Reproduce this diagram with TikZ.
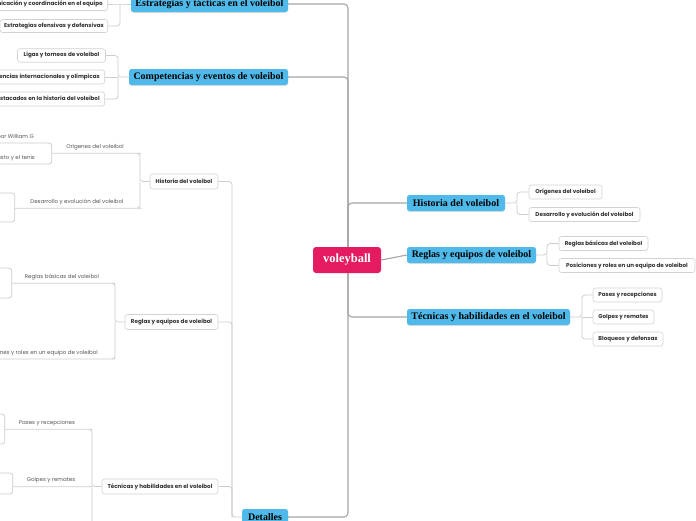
\documentclass[tikz,border=0pt]{standalone}
\usepackage{fontspec}
\setmainfont{Liberation Serif}
\newfontfamily\pop{Poppins}
\usetikzlibrary{backgrounds,shadows}
\definecolor{pinkc}{RGB}{228,27,96}
\definecolor{bluec}{RGB}{79,186,234}
\definecolor{mainline}{RGB}{165,165,165}
\definecolor{subline}{RGB}{205,205,205}
\definecolor{boxline}{RGB}{210,210,210}
\definecolor{txtd}{RGB}{50,50,50}
\definecolor{txtl}{RGB}{85,85,85}
\tikzset{
  rootbox/.style={fill=pinkc, rounded corners=3pt, text=white, font=\fontsize{12.5}{14}\selectfont\bfseries, minimum height=26, inner sep=0pt},
  bluebox/.style={fill=bluec, rounded corners=2.5pt, text=black, font=\fontsize{10}{12}\selectfont\bfseries, minimum height=16, inner sep=0pt, drop shadow={shadow xshift=0pt, shadow yshift=-0.8pt, opacity=0.25}},
  wbox/.style={draw=boxline, line width=0.6pt, fill=white, rounded corners=2.5pt, text=txtd, font=\pop\fontsize{5.6}{7}\selectfont\bfseries, minimum height=14, inner sep=0pt},
  uleaf/.style={text=txtl, font=\pop\fontsize{5.5}{7}\selectfont, minimum height=12, inner sep=0pt},
  mainconn/.style={draw=mainline, line width=1.1pt, rounded corners=4pt},
  subconn/.style={draw=subline, line width=0.8pt, rounded corners=3pt},
}
\begin{document}
\begin{tikzpicture}[x=1pt,y=-1pt]
\useasboundingbox (0,0) rectangle (696,520);
\clip (0,0) rectangle (696,520);
% central and main branches
\node[rootbox, minimum width=68] (root) at (347,260) {voleyball};
\node[bluebox, minimum width=98] (hist) at (456,203) {Historia del voleibol};
\node[bluebox, minimum width=129] (reg) at (471.5,255) {Reglas y equipos de voleibol};
\node[bluebox, minimum width=163] (tec) at (488.5,317) {Técnicas y habilidades en el voleibol};
\node[bluebox, minimum width=157] (estr) at (209.5,4) {Estrategias y tácticas en el voleibol};
\node[bluebox, minimum width=159] (comp) at (208.5,77) {Competencias y eventos de voleibol};
\node[bluebox, minimum width=46] (det) at (265,517) {Detalles};
% right leaves
\node[wbox, minimum width=73] (r1) at (565.5,192) {Orígenes del voleibol};
\node[wbox, minimum width=111] (r2) at (584.5,214.5) {Desarrollo y evolución del voleibol};
\node[wbox, minimum width=89] (r3) at (603.5,243.5) {Reglas básicas del voleibol};
\node[wbox, minimum width=136] (r4) at (627,265.5) {Posiciones y roles en un equipo de voleibol};
\node[wbox, minimum width=69] (r5) at (627.5,295) {Pases y recepciones};
\node[wbox, minimum width=61] (r6) at (623.5,317) {Golpes y remates};
\node[wbox, minimum width=70] (r7) at (628,339) {Bloqueos y defensas};
% left top leaves
\node[wbox, anchor=east, minimum height=13, inner xsep=5] (e1) at (108,4) {Comunicación y coordinación en el equipo};
\node[wbox, anchor=east, minimum height=13, inner xsep=4] (e2) at (108,26) {Estrategias ofensivas y defensivas};
\node[wbox, minimum width=88, minimum height=13.5] (c1) at (61.5,55.5) {Ligas y torneos de voleibol};
\node[wbox, anchor=east, inner xsep=5] (c2) at (105,77) {Competencias internacionales y olímpicas};
\node[wbox, anchor=east, inner xsep=5] (c3) at (105,99) {Jugadores destacados en la historia del voleibol};
% Detalles subtree
\node[wbox, minimum width=68, minimum height=15] (dh) at (184,181.5) {Historia del voleibol};
\node[wbox, minimum width=93, minimum height=15] (dr) at (171.5,322) {Reglas y equipos de voleibol};
\node[wbox, minimum width=116, minimum height=15] (dt) at (160,486.5) {Técnicas y habilidades en el voleibol};
\node[uleaf, minimum width=86] (lo) at (95,147) {Orígenes del voleibol};
\node[uleaf, minimum width=124] (ld) at (77,202) {Desarrollo y evolución del voleibol};
\node[uleaf, minimum width=100] (lr1) at (62,277) {Reglas básicas del voleibol};
\node[uleaf, anchor=south east, inner xsep=14] (lr2) at (112,359) {Posiciones y roles en un equipo de voleibol};
\node[uleaf, minimum width=84] (lt1) at (47,423) {Pases y recepciones};
\node[uleaf, minimum width=76] (lt2) at (51,480.5) {Golpes y remates};
\node[uleaf, anchor=south east, inner xsep=12] (lo1) at (46,143) {Creado por William G};
\node[uleaf, anchor=south east, inner xsep=11] (lo2) at (46,164) {Combinación de baloncesto y el tenis};
% junctions
\coordinate (rj) at (348,260);
\coordinate (hj) at (517,203);
\coordinate (rgj) at (547,255);
\coordinate (tj) at (582,317);
\coordinate (ej) at (120,4);
\coordinate (cj) at (118,77);
\coordinate (dj) at (232,517);
\coordinate (dhj) at (140,181.5);
\coordinate (drj) at (115,322);
\coordinate (dtj) at (92,486.5);
\coordinate (ld1) at (-5,193);
\coordinate (ld2) at (-5,222);
\coordinate (lrb1) at (-5,268);
\coordinate (lrb2) at (-5,298);
\coordinate (ltb1) at (-5,414);
\coordinate (ltb2) at (-5,444);
\coordinate (ltc1) at (-5,473);
\coordinate (ltc2) at (-5,494);
\coordinate (lt3) at (40,545);
\begin{scope}[on background layer]
\clip (0,0) rectangle (696,520);
\draw[mainconn] (rj) |- (hist.west);
\draw[mainconn] (rj) |- (tec.west);
\draw[mainconn] (root.east) -- (reg.west);
\draw[mainconn] (rj) |- (estr.east);
\draw[mainconn] (rj) |- (comp.east);
\draw[mainconn] (rj) |- (det.east);
\draw[subconn] (hist.east) -- (hj) |- (r1.west);
\draw[subconn] (hj) |- (r2.west);
\draw[subconn] (reg.east) -- (rgj) |- (r3.west);
\draw[subconn] (rgj) |- (r4.west);
\draw[subconn] (tec.east) -- (tj) |- (r5.west);
\draw[subconn] (tj) -- (r6.west);
\draw[subconn] (tj) |- (r7.west);
\draw[subconn] (estr.west) -- (ej) -- (e1.east);
\draw[subconn] (ej) |- (e2.east);
\draw[subconn] (comp.west) -- (cj) |- (c1.east);
\draw[subconn] (cj) -- (c2.east);
\draw[subconn] (cj) |- (c3.east);
\draw[subconn] (det.west) -- (dj) |- (dh.east);
\draw[subconn] (dj) |- (dr.east);
\draw[subconn] (dj) |- (dt.east);
\draw[subconn] (dh.west) -- (dhj) |- (lo.south east) -- (lo.south west);
\draw[subconn] (dhj) |- (ld.south east) -- (ld.south west);
\draw[subconn] (lo.south west) |- (lo1.south east) -- (lo1.south west);
\draw[subconn] (lo.south west) |- (lo2.south east) -- (lo2.south west);
\draw[subconn] (ld.south west) |- (ld1);
\draw[subconn] (ld.south west) |- (ld2);
\draw[subconn] (dr.west) -- (drj) |- (lr1.south east) -- (lr1.south west);
\draw[subconn] (drj) |- (lr2.south east) -- (lr2.south west);
\draw[subconn] (lr1.south west) |- (lrb1);
\draw[subconn] (lr1.south west) |- (lrb2);
\draw[subconn] (dt.west) -- (dtj) |- (lt1.south east) -- (lt1.south west);
\draw[subconn] (dtj) -- (lt2.south east) -- (lt2.south west);
\draw[subconn] (dtj) |- (lt3);
\draw[subconn] (lt1.south west) |- (ltb1);
\draw[subconn] (lt1.south west) |- (ltb2);
\draw[subconn] (lt2.south west) |- (ltc1);
\draw[subconn] (lt2.south west) |- (ltc2);
\end{scope}
\end{tikzpicture}
\end{document}
